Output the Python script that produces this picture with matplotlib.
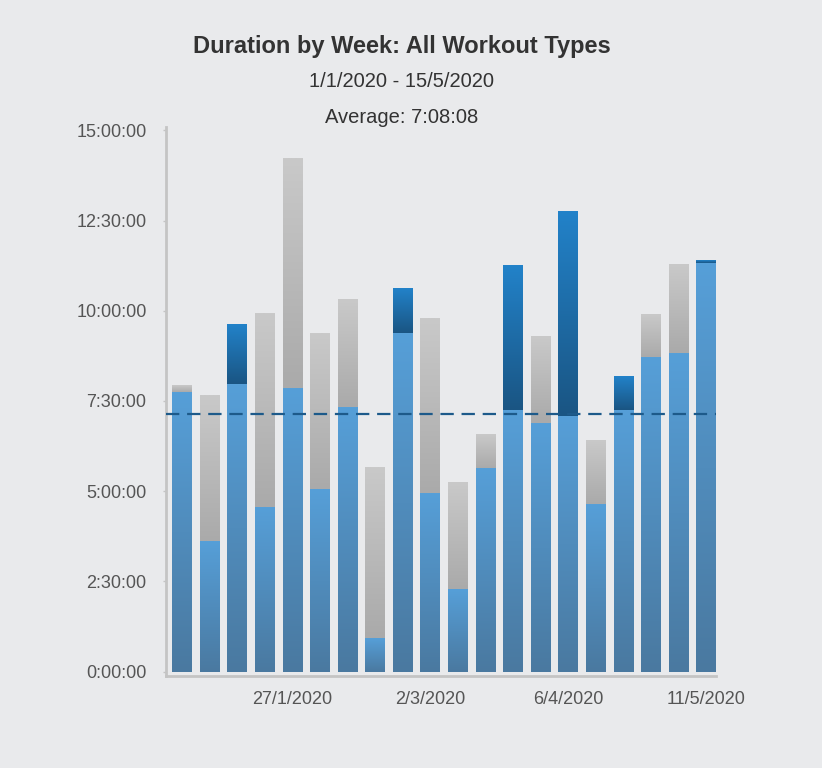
import numpy as np
import matplotlib
matplotlib.use('Agg')
import matplotlib.pyplot as plt
from matplotlib.ticker import FuncFormatter, FixedLocator
from matplotlib.colors import to_rgb

plt.rcParams['font.family'] = ['Liberation Sans', 'DejaVu Sans']

# week start dates (one bar per week)
weeks = ['30/12/2019', '6/1/2020', '13/1/2020', '20/1/2020', '27/1/2020',
         '3/2/2020', '10/2/2020', '17/2/2020', '24/2/2020', '2/3/2020',
         '9/3/2020', '16/3/2020', '23/3/2020', '30/3/2020', '6/4/2020',
         '13/4/2020', '20/4/2020', '27/4/2020', '4/5/2020', '11/5/2020']
shown_labels = ['27/1/2020', '2/3/2020', '6/4/2020', '11/5/2020']

# hours per week, stacked: light blue, dark blue, grey
blue_hours = [7.76, 3.63, 7.98, 4.55, 7.87, 5.05, 7.32, 0.94, 9.37, 4.96,
              2.30, 5.63, 7.26, 6.90, 7.07, 4.63, 7.26, 8.73, 8.84, 11.31]
dark_hours = [0, 0, 1.64, 0, 0, 0, 0, 0, 1.22, 0,
              0, 0, 4.00, 0, 5.66, 0, 0.92, 0, 0, 0.06]
grey_hours = [0.17, 4.02, 0, 5.35, 6.35, 4.32, 2.99, 4.74, 0, 4.83,
              2.94, 0.94, 0, 2.39, 0, 1.77, 0, 1.17, 2.44, 0]
average_hours = 7 + 8 / 60 + 8 / 3600

bg = '#e9eaec'


def fmt_hms(v, pos=None):
    total = int(round(v * 3600))
    h, rem = divmod(total, 3600)
    m, s = divmod(rem, 60)
    return f'{h}:{m:02d}:{s:02d}'


def gradient_fill(ax, patches, bottom_col, top_col):
    # vertical gradient inside each bar segment
    b = np.array(to_rgb(bottom_col))
    t = np.array(to_rgb(top_col))
    ramp = np.linspace(0, 1, 128)[:, None, None]
    img = b + (t - b) * ramp
    for p in patches:
        if p.get_height() <= 0:
            continue
        x0, y0 = p.get_x(), p.get_y()
        ax.imshow(img, extent=[x0, x0 + p.get_width(), y0, y0 + p.get_height()],
                  origin='lower', aspect='auto', interpolation='bilinear', zorder=2)
        p.set_facecolor('none')


fig = plt.figure(figsize=(8.22, 7.68), dpi=100, facecolor=bg)
ax = fig.add_axes([0.202, 0.12, 0.669, 0.714])
ax.set_facecolor(bg)

x = np.arange(len(weeks))
blue = np.array(blue_hours)
dark = np.array(dark_hours)
grey = np.array(grey_hours)
w = 0.71

b1 = ax.bar(x, blue, w, color='#5099d2', linewidth=0, zorder=1)
b2 = ax.bar(x, dark, w, bottom=blue, color='#1f6fae', linewidth=0, zorder=1)
b3 = ax.bar(x, grey, w, bottom=blue + dark, color='#bbbbbb', linewidth=0, zorder=1)
gradient_fill(ax, b1, '#4a79a0', '#569fd8')
gradient_fill(ax, b2, '#1a5583', '#2282c9')
gradient_fill(ax, b3, '#aaaaaa', '#c9c9c9')

ax.axhline(average_hours, color='#1d5a8a', lw=1.6, ls=(0, (6, 3.5)), zorder=4)

ax.set_xlim(-0.58, 19.36)
ax.set_ylim(-0.12, 15.08)

ax.yaxis.set_major_locator(FixedLocator([0, 2.5, 5, 7.5, 10, 12.5, 15]))
ax.yaxis.set_major_formatter(FuncFormatter(fmt_hms))
tick_pos = [weeks.index(d) for d in shown_labels]
ax.set_xticks(tick_pos)
ax.set_xticklabels(shown_labels)
ax.tick_params(axis='y', length=2, width=1, color='#c4c4c4', pad=12,
               labelsize=13, labelcolor='#555555')
ax.tick_params(axis='x', length=0, pad=11, labelsize=13, labelcolor='#555555')

for s in ['top', 'right']:
    ax.spines[s].set_visible(False)
for s in ['left', 'bottom']:
    ax.spines[s].set_color('#c4c4c4')
    ax.spines[s].set_linewidth(2)

fig.text(0.489, 0.940, 'Duration by Week: All Workout Types', ha='center', va='center',
         fontsize=17, fontweight='bold', color='#333333')
fig.text(0.489, 0.8935, '1/1/2020 - 15/5/2020', ha='center', va='center',
         fontsize=14.5, color='#333333')
fig.text(0.489, 0.8465, 'Average: ' + fmt_hms(average_hours), ha='center', va='center',
         fontsize=14.5, color='#333333')

fig.savefig('out.png', dpi=100, facecolor=bg)
